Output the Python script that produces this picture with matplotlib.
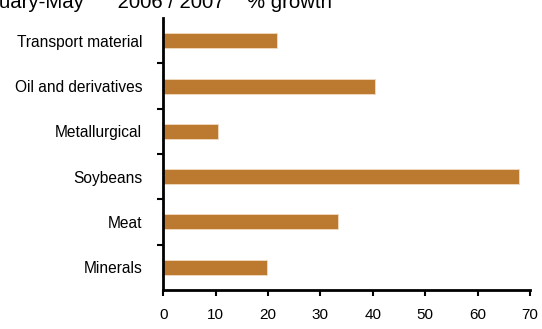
import matplotlib
matplotlib.use("Agg")
import matplotlib.pyplot as plt
import numpy as np

plt.rcParams['font.family'] = ['Liberation Sans', 'DejaVu Sans']

# data (bottom to top)
categories = ["Minerals", "Meat", "Soybeans", "Metallurgical",
              "Oil and derivatives", "Transport material"]
growth = [19.9, 33.4, 67.8, 10.4, 40.5, 21.7]
x_ticks = [0, 10, 20, 30, 40, 50, 60, 70]

fig = plt.figure(figsize=(5.42, 3.29), dpi=100)
ax = fig.add_axes([0.301, 0.119, 0.677, 0.826])

pos = np.arange(len(categories))
ax.barh(pos, growth, height=0.33, color='#BB7A30', edgecolor='#F3DCC0', linewidth=0.6)

ax.set_xlim(0, 70)
ax.set_ylim(-0.5, len(categories) - 0.5)
ax.set_xticks(x_ticks)
ax.tick_params(axis='x', direction='out', length=4, width=1.5, pad=9, labelsize=11)

# tick marks between categories, labels at the bar centres
ax.set_yticks(pos[:-1] + 0.5)
ax.set_yticklabels([])
ax.tick_params(axis='y', which='major', direction='out', length=4, width=1.5)
ax.set_yticks(pos, minor=True)
ax.set_yticklabels(categories, minor=True)
ax.tick_params(axis='y', which='minor', length=0, pad=15, labelsize=11.2)

for s in ['top', 'right']:
    ax.spines[s].set_visible(False)
for s in ['left', 'bottom']:
    ax.spines[s].set_linewidth(2)

# title mostly cut off at the top edge in the original
fig.text(-34 / 542, 1 - 8 / 329, "January-May      2006 / 2007    % growth",
         fontsize=14.7, va='baseline', ha='left')

fig.savefig("out.png", dpi=100)
